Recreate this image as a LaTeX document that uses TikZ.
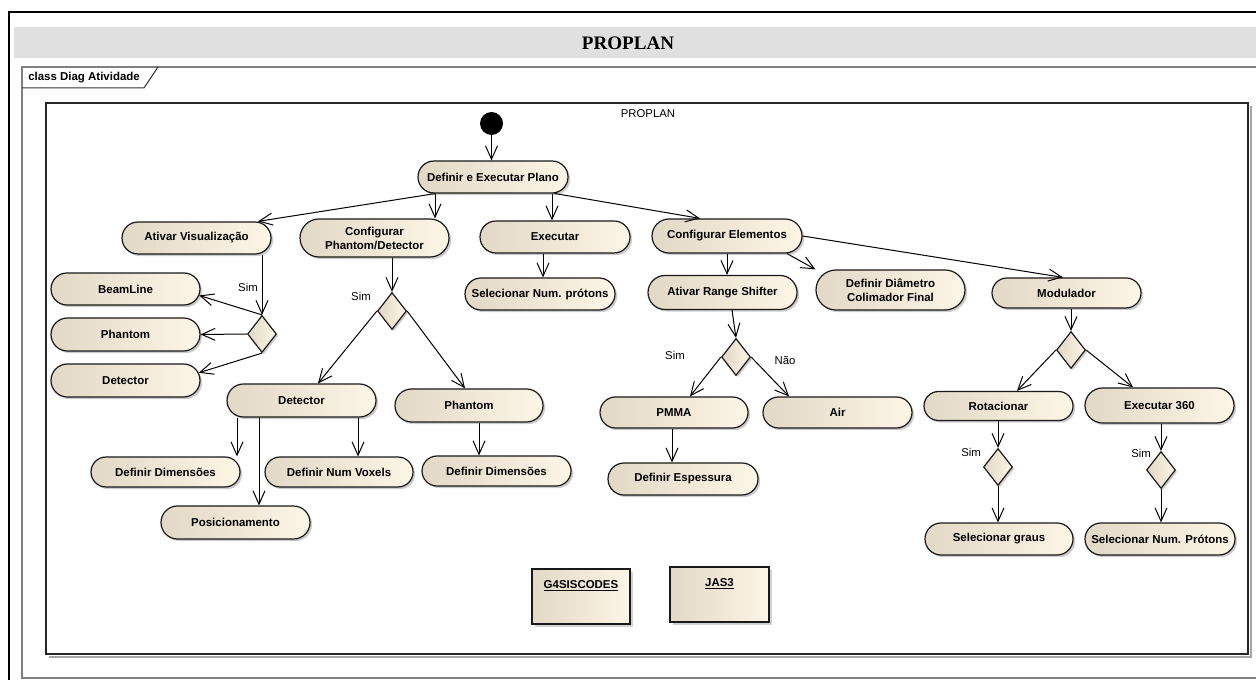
\documentclass[tikz,border=0pt]{standalone}
\usepackage{fontspec}
\setmainfont{Liberation Sans}
\newfontfamily\titlefont{Liberation Serif}
\usetikzlibrary{arrows.meta,shapes.misc,shapes.geometric,shadows}
\definecolor{actL}{RGB}{226,216,198}
\definecolor{actR}{RGB}{253,245,230}
\definecolor{band}{RGB}{224,224,224}
\begin{document}
\begin{tikzpicture}[x=0.75pt,y=-0.75pt,
  nfont/.style={font=\bfseries\fontsize{8.6}{10.5}\selectfont},
  act/.style={rounded rectangle, draw=black!90, line width=0.9pt, inner sep=0pt,
     left color=actL, right color=actR, nfont,
     drop shadow={shadow xshift=1.6pt, shadow yshift=-1.6pt, fill=black!40}},
  sz/.style 2 args={minimum width=#1*0.75pt, minimum height=#2*0.75pt},
  dec/.style={diamond, draw=black!90, line width=0.9pt, inner sep=0pt,
     minimum width=29*0.75pt, minimum height=37*0.75pt,
     left color=actL, right color=actR,
     drop shadow={shadow xshift=1.4pt, shadow yshift=-1.4pt, fill=black!40}},
  boxn/.style={rectangle, draw=black!90, line width=0.9pt, inner sep=0pt,
     left color=actL, right color=actR,
     drop shadow={shadow xshift=2.5pt, shadow yshift=-2.5pt, fill=black!35}},
  boxlbl/.style={anchor=north, yshift=-7*0.75pt, nfont},
  flow/.style={draw=black, line width=0.75pt, -{Straight Barb[length=10pt,width=9pt]}},
  lbl/.style={font=\fontsize{8.5}{10}\selectfont}
]
\useasboundingbox (0,0) rectangle (1256,680);
\clip (0,0) rectangle (1256,680);
% outer frame and title
\fill[band] (14,27) rectangle (1275,58);
\draw[line width=2pt] (9,12) rectangle (1275,700);
\node[font=\titlefont\bfseries\fontsize{14.3}{16}\selectfont] (title) at (628,43) {PROPLAN};
% class frame
\draw[line width=1.2pt, black!50] (22,67) rectangle (1275,678);
\draw[line width=0.75pt, black!80] (22,88) -- (144,88) -- (158,67);
\node[nfont, anchor=west, inner sep=0pt] (tab) at (28,78) {class Diag Atividade};
% inner region
\draw[black!35, line width=1.5pt] (1250.5,106) -- (1250.5,656.5) -- (49,656.5);
\draw[black!85, line width=0.9pt] (46,103) rectangle (1248,654);
\node[lbl] (proplan) at (648,114) {PROPLAN};
% start
\node[circle, fill=black, minimum size=23*0.75pt, inner sep=0pt] (start) at (491.5,123.5) {};
% activities
\node[act, sz={150}{32}] (defp) at (493,177) {Definir e Executar Plano};
\node[act, sz={149}{32}] (av) at (196.5,238) {Ativar Visualização};
\node[act, sz={149}{38}, align=center] (cpd) at (374.5,238) {Configurar\\Phantom/Detector};
\node[act, sz={150}{32}] (exe) at (555,237) {Executar};
\node[act, sz={150}{34}] (ce) at (727,236) {Configurar Elementos};
\node[act, sz={150}{32}] (snp) at (540,294) {Selecionar Num. prótons};
\node[act, sz={149}{34}] (ars) at (722.5,292.5) {Ativar Range Shifter};
\node[act, sz={149}{40}, align=center] (ddc) at (890.5,290) {Definir Diâmetro\\Colimador Final};
\node[act, sz={149}{30}] (mod) at (1066.5,293) {Modulador};
\node[act, sz={149}{32}] (beam) at (125.5,289) {BeamLine};
\node[act, sz={149}{33}] (ph1) at (125.5,334.5) {Phantom};
\node[act, sz={149}{33}] (det1) at (125.5,380.5) {Detector};
\node[act, sz={149}{33}] (det2) at (301.5,400.5) {Detector};
\node[act, sz={148}{33}] (ph2) at (469,405.5) {Phantom};
\node[act, sz={149}{30}] (dd1) at (165.5,472) {Definir Dimensões};
\node[act, sz={148}{30}] (dnv) at (339,472) {Definir Num Voxels};
\node[act, sz={149}{30}] (dd2) at (496.5,471) {Definir Dimensões};
\node[act, sz={149}{33}] (pos) at (235.5,522.5) {Posicionamento};
\node[act, sz={148}{31}] (pmma) at (674,412.5) {PMMA};
\node[act, sz={149}{31}] (air) at (837.5,412.5) {Air};
\node[act, sz={150}{32}] (desp) at (683,479) {Definir Espessura};
\node[act, sz={149}{29}] (rot) at (998.5,406) {Rotacionar};
\node[act, sz={149}{35}] (ex360) at (1159.5,405.5) {Executar 360};
\node[act, sz={148}{32}] (sg) at (999,539) {Selecionar graus};
\node[act, sz={150}{32}] (snp2) at (1160,539) {Selecionar Num. Prótons};
% decisions
\node[dec] (d1) at (262,334) {};
\node[dec] (d2) at (392,311) {};
\node[dec] (d3) at (736,357) {};
\node[dec] (d4) at (1071,350) {};
\node[dec] (d5) at (998,467) {};
\node[dec] (d6) at (1161,470) {};
% packages
\node[boxn, minimum width=98*0.75pt, minimum height=55*0.75pt,
  label={[boxlbl]north:\underline{G4SISCODES}}] (g4) at (581,596.5) {};
\node[boxn, minimum width=99*0.75pt, minimum height=55*0.75pt,
  label={[boxlbl]north:\underline{JAS3}}] (jas) at (719.5,594.5) {};
% flows
\draw[flow] (start) -- (start |- defp.north);
\draw[flow] (defp.196) -- (av.north -| 258,0);
\draw[flow] (defp.south -| 435,0) -- (cpd.north -| 435,0);
\draw[flow] (defp.south -| 552,0) -- (exe.north -| 552,0);
\draw[flow] (defp.-15) -- (ce.north -| 700,0);
\draw[flow] (exe.south -| 543,0) -- (snp.north -| 543,0);
\draw[flow] (av.south -| d1.north) -- (d1.north);
\draw[flow] (d1.north) -- (beam.-5);
\draw[flow] (d1.west) -- (ph1.east);
\draw[flow] (d1.south) -- (det1.6);
\draw[flow] (cpd.south -| d2.north) -- (d2.north);
\draw[flow] (d2.west) -- (det2.north -| 318,0);
\draw[flow] (d2.east) -- (ph2.north -| 465,0);
\draw[flow] (det2.south -| 237,0) -- (dd1.north -| 237,0);
\draw[flow] (det2.south -| 259,0) -- (pos.north -| 259,0);
\draw[flow] (det2.south -| 358,0) -- (dnv.north -| 358,0);
\draw[flow] (ph2.south -| 479,0) -- (dd2.north -| 479,0);
\draw[flow] (ce.south -| 727,0) -- (ars.north -| 727,0);
\draw[flow] (ce.south -| 787,0) -- (ddc.west |- ddc.north);
\draw[flow] (ce.east) -- (mod.north -| 1063,0);
\draw[flow] (ars.south -| 732,0) -- (d3.north);
\draw[flow] (d3.west) -- (pmma.north -| 690,0);
\draw[flow] (d3.east) -- (air.north -| 789,0);
\draw[flow] (pmma.south -| 672,0) -- (desp.north -| 672,0);
\draw[flow] (mod.south -| d4.north) -- (d4.north);
\draw[flow] (d4.west) -- (rot.north -| 1017,0);
\draw[flow] (d4.east) -- (ex360.north -| 1133,0);
\draw[flow] (rot.south -| d5.north) -- (d5.north);
\draw[flow] (d5.south) -- (sg.north -| d5.south);
\draw[flow] (ex360.south -| d6.north) -- (d6.north);
\draw[flow] (d6.south) -- (snp2.north -| d6.south);
% guard labels
\node[lbl] (s1) at (248,287) {Sim};
\node[lbl] (s2) at (361,296) {Sim};
\node[lbl] (s3) at (675,355) {Sim};
\node[lbl] (n3) at (785,360) {Não};
\node[lbl] (s5) at (971,452) {Sim};
\node[lbl] (s6) at (1141,453) {Sim};
\end{tikzpicture}
\end{document}
